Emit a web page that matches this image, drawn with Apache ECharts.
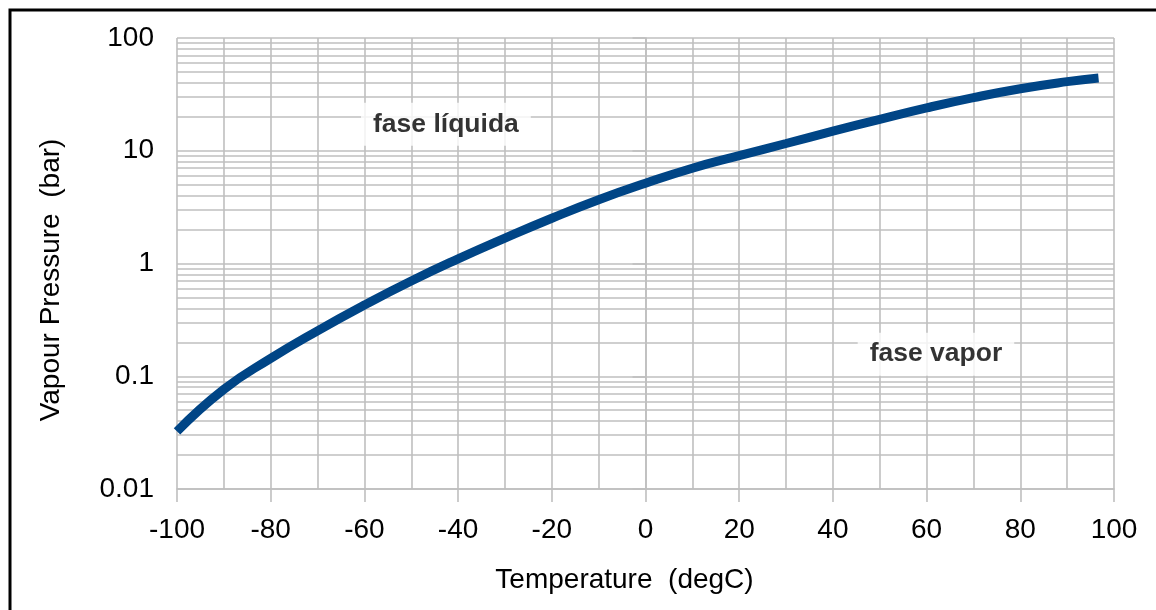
<!DOCTYPE html>
<html>
<head>
<meta charset="utf-8">
<script src="https://cdn.jsdelivr.net/npm/echarts@6/dist/echarts.min.js"></script>
<style>
html,body{margin:0;padding:0;background:#fff;}
#chart{width:1156px;height:610px;}
</style>
</head>
<body>
<div id="chart"></div>
<script>
// Temperature (degC)
const temperature = [-100, -90, -80, -70, -60, -50, -40, -30, -20, -10, 0, 10, 20, 30, 40, 50, 60, 70, 80, 90, 96.7];
// Vapour pressure (bar)
const pressure = [0.0324, 0.0765, 0.144, 0.253, 0.428, 0.70, 1.10, 1.68, 2.52, 3.68, 5.15, 7.0, 9.05, 11.6, 14.9, 19.0, 24.0, 29.6, 35.5, 41.0, 44.2];
// Y tick decades and minor multipliers
const yDecades = [0.01, 0.1, 1, 10];
const minorMultipliers = [2, 3, 4, 5, 6, 7, 8, 9];
// Annotations
const annotations = [
  { text: 'fase líquida', x: -42.6, y: 17.2 },
  { text: 'fase vapor', x: 62.0, y: 0.157 }
];

const FONT = '"Liberation Sans", Arial, sans-serif';
const GRID = '#bfbfbf';

const minorValues = [];
yDecades.forEach(d => minorMultipliers.forEach(m => minorValues.push(Number((d * m).toPrecision(3)))));

const chart = echarts.init(document.getElementById('chart'));
chart.setOption({
  animation: false,
  backgroundColor: '#fff',
  graphic: [{
    type: 'rect',
    shape: { x: 10, y: 10, width: 1300, height: 800 },
    style: { fill: 'none', stroke: '#000', lineWidth: 3 },
    z: 100
  }],
  grid: { left: 177, right: 42, top: 38, bottom: 121 },
  xAxis: {
    type: 'value',
    min: -100, max: 100, interval: 20,
    name: 'Temperature  (degC)',
    nameLocation: 'middle',
    nameGap: 77,
    nameTextStyle: { fontFamily: FONT, fontSize: 28, color: '#000', padding: [0, 42, 0, 0] },
    axisLine: { show: true, lineStyle: { color: GRID, width: 1.6 } },
    axisTick: { show: true, length: 13, lineStyle: { color: GRID, width: 1.6 } },
    axisLabel: { fontFamily: FONT, fontSize: 28, color: '#000', margin: 27 },
    splitLine: { show: true, lineStyle: { color: GRID, width: 1.6 } },
    minorTick: { show: false, splitNumber: 2 },
    minorSplitLine: { show: true, lineStyle: { color: GRID, width: 1.6 } }
  },
  yAxis: {
    type: 'log',
    logBase: 10,
    min: 0.01, max: 100,
    name: 'Vapour Pressure  (bar)',
    nameLocation: 'middle',
    nameGap: 112,
    nameRotate: 90,
    nameTextStyle: { fontFamily: FONT, fontSize: 28, color: '#000', padding: [0, 33, 0, 0] },
    axisLine: { show: true, lineStyle: { color: GRID, width: 1.6 } },
    axisTick: { show: true, length: 13, lineStyle: { color: GRID, width: 1.6 } },
    axisLabel: { fontFamily: FONT, fontSize: 28, color: '#000', margin: 23,
      formatter: v => String(Number(v.toPrecision(3))) },
    splitLine: { show: true, lineStyle: { color: GRID, width: 1.6 } }
  },
  series: [
    {
      type: 'line',
      data: [],
      silent: true,
      z: 1,
      markLine: {
        silent: true,
        z: 1,
        symbol: 'none',
        label: { show: false },
        lineStyle: { color: GRID, width: 1.6, type: 'solid' },
        data: minorValues.map(v => ({ yAxis: v }))
      }
    },
    {
      type: 'line',
      data: temperature.map((t, i) => [t, pressure[i]]),
      showSymbol: false,
      smooth: 0.5,
      z: 20,
      lineStyle: { color: '#004586', width: 9 }
    },
    {
      type: 'scatter',
      z: 25,
      symbolSize: 1,
      itemStyle: { color: 'rgba(0,0,0,0)' },
      data: annotations.map(a => ({ value: [a.x, a.y], name: a.text })),
      label: {
        show: true,
        position: 'inside',
        formatter: p => p.name,
        fontFamily: FONT,
        fontSize: 26.5,
        fontWeight: 'bold',
        color: '#000',
        backgroundColor: '#fff',
        padding: [8, 12]
      }
    }
  ]
});
</script>
</body>
</html>
